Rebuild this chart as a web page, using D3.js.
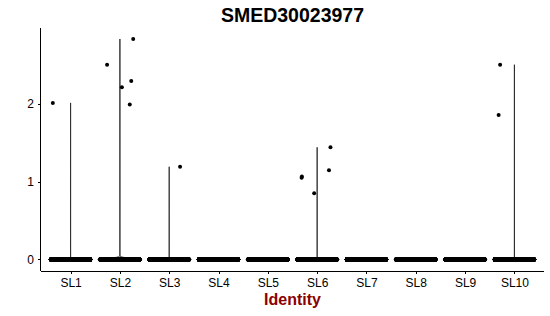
<!DOCTYPE html>
<html lang="en">
<head>
  <meta charset="UTF-8">
  <title>SMED30023977</title>
  <style>
    body { margin: 0; background: #fff; }
    svg { display: block; font-family: 'Liberation Sans', Arial, Helvetica, sans-serif; }
    .axis path, .axis line { stroke: #000; shape-rendering: crispEdges; }
    .axis text { fill: #000; font-size: 12px; }
  </style>
</head>
<body>
  <div id="chart"></div>
  <script src="https://cdn.jsdelivr.net/npm/d3@7/dist/d3.min.js"></script>
  <script>
    // cells per identity class that have zero expression
    const categories = ['SL1', 'SL2', 'SL3', 'SL4', 'SL5', 'SL6', 'SL7', 'SL8', 'SL9', 'SL10'];
    const zeroCounts = [4000, 4000, 4000, 4000, 4000, 4000, 4000, 4000, 4000, 4000];

    // expressing cells: identity, value, horizontal jitter (fraction of a category)
    const posGroup  = ['SL1', 'SL2', 'SL2', 'SL2', 'SL2', 'SL2', 'SL3', 'SL6', 'SL6', 'SL6', 'SL6', 'SL6', 'SL10', 'SL10'];
    const posValue  = [2.01, 2.83, 2.50, 2.29, 2.21, 1.99, 1.19, 1.065, 1.05, 0.85, 1.44, 1.145, 2.50, 1.855];
    const posJitter = [-0.36, 0.27, -0.26, 0.23, 0.04, 0.2, 0.22, -0.31, -0.315, -0.06, 0.27, 0.24, -0.29, -0.32];

    const yTicks = [0, 1, 2];

    const W = 550, H = 316;
    const m = { top: 28, right: 6, bottom: 45.5, left: 41 };

    const svg = d3.select('#chart').append('svg').attr('width', W).attr('height', H);

    const x = d3.scalePoint().domain(categories)
      .range([m.left, W - m.right]).padding(0.6);
    const step = x.step();
    const yMax = d3.max(posValue);
    const y = d3.scaleLinear().domain([-0.05 * yMax, 1.05 * yMax]).range([H - m.bottom, m.top]);

    // gaussian kernel density, R's bw.nrd0, trimmed to the data range
    function violin(cat, i) {
      const vals = posValue.filter((v, k) => posGroup[k] === cat);
      const n0 = zeroCounts[i];
      const n = n0 + vals.length;
      const mean = d3.sum(vals) / n;
      const varr = (n0 * mean * mean + d3.sum(vals, v => (v - mean) ** 2)) / (n - 1);
      const sd = Math.sqrt(varr);
      if (!vals.length || sd === 0) return null;
      const bw = 0.9 * sd * Math.pow(n, -0.2);
      const hi = d3.max(vals);
      const k = t => Math.exp(-0.5 * t * t);
      const grid = d3.range(512).map(j => hi * j / 511);
      return grid.map(g => ({
        v: g,
        d: n0 * k(g / bw) + d3.sum(vals, v => k((g - v) / bw))
      }));
    }

    const halfW = 0.45 * step;
    const gV = svg.append('g');
    categories.forEach((cat, i) => {
      const cx = x(cat);
      const dens = violin(cat, i);
      if (!dens) {
        gV.append('line')
          .attr('x1', cx - halfW).attr('x2', cx + halfW)
          .attr('y1', y(0)).attr('y2', y(0))
          .attr('stroke', '#000').attr('stroke-width', 0.8);
        return;
      }
      const dmax = d3.max(dens, d => d.d);
      const area = d3.area()
        .x0(d => cx - halfW * d.d / dmax)
        .x1(d => cx + halfW * d.d / dmax)
        .y(d => y(d.v));
      gV.append('path').datum(dens)
        .attr('d', area)
        .attr('fill', '#fff')
        .attr('stroke', '#000')
        .attr('stroke-width', 0.8);
    });

    // jittered points
    const gP = svg.append('g').attr('fill', '#000');
    categories.forEach((cat, i) => {
      const n0 = zeroCounts[i];
      gP.selectAll(null)
        .data(d3.range(n0))
        .join('circle')
        .attr('cx', j => x(cat) + step * (-0.4 + 0.8 * (j + 0.5) / n0))
        .attr('cy', y(0))
        .attr('r', 2);
    });
    gP.selectAll(null)
      .data(posValue)
      .join('circle')
      .attr('cx', (v, k) => x(posGroup[k]) + step * posJitter[k])
      .attr('cy', v => y(v))
      .attr('r', 2);

    // axes
    svg.append('g').attr('class', 'axis')
      .attr('transform', `translate(0,${H - m.bottom})`)
      .call(d3.axisBottom(x).tickSize(3).tickSizeOuter(0).tickPadding(5))
      .call(g => g.select('.domain').attr('d', `M${m.left},0.5H${W - m.right}`));

    svg.append('g').attr('class', 'axis')
      .attr('transform', `translate(${m.left},0)`)
      .call(d3.axisLeft(y).tickValues(yTicks).tickFormat(d3.format('d'))
        .tickSize(3).tickSizeOuter(0).tickPadding(4))
      .call(g => g.select('.domain').attr('d', `M-0.5,${m.top}V${H - m.bottom}`));

    svg.append('text')
      .attr('x', (m.left + W - m.right) / 2).attr('y', 22)
      .attr('text-anchor', 'middle')
      .attr('font-size', 19.5).attr('font-weight', 'bold')
      .text('SMED30023977');

    svg.append('text')
      .attr('x', (m.left + W - m.right) / 2).attr('y', 305)
      .attr('text-anchor', 'middle')
      .attr('font-size', 16).attr('font-weight', 'bold')
      .attr('fill', '#8b0000')
      .text('Identity');
  </script>
</body>
</html>
